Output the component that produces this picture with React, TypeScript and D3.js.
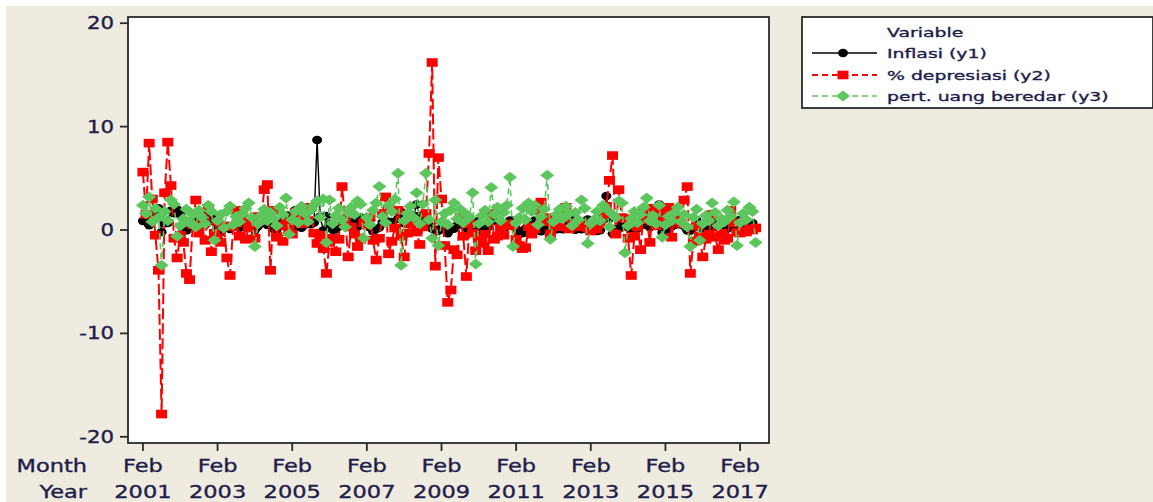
import * as d3 from 'd3';

// monthly series, Feb 2001 .. Jul 2017
const inflasi = [
  0.87, 0.89, 0.46, 0.86, 1.67, 2.12, -0.21, 0.64, 0.68, 1.87, 1.62,
  1.99, 1.5, -0.02, -0.04, 0.8, 0.36, 0.86, 0.29, 0.76, 0.5, 1.85, 1.2,
  0.8, 0.21, -0.23, 0.15, 0.21, 0.1, 0.37, 0.56, 0.19, 0.55, 1.01, 0.94,
  0.57, -0.02, 0.36, 0.97, 0.88, 0.48, 0.45, 0.09, 0.02, 0.56, 0.89, 1.04,
  1.43, -0.17, 1.91, 0.34, 0.21, 0.5, 0.78, 0.55, 0.69, 8.7, 1.31, -0.04,
  1.36, 0.58, 0.03, 0.05, 0.37, 0.45, 0.45, 0.33, 0.38, 0.86, 0.34, 1.21,
  1.04, 0.62, 0.24, -0.16, 0.1, 0.23, 0.72, 0.75, 0.8, 0.79, 0.18, 1.1,
  1.77, 0.65, 0.95, 0.57, 1.41, 2.46, 1.37, 0.51, 0.97, 0.45, 0.12, -0.04,
  -0.07, 0.21, 0.22, -0.31, 0.04, 0.11, 0.45, 0.56, 1.05, 0.19, -0.03, 0.33,
  0.84, 0.3, -0.14, 0.15, 0.29, 0.97, 1.57, 0.76, 0.44, 0.06, 0.6, 0.92,
  0.89, 0.13, -0.32, -0.31, 0.12, 0.55, 0.67, 0.93, 0.27, -0.12, 0.34, 0.57,
  0.76, 0.05, 0.07, 0.21, 0.07, 0.62, 0.7, 0.95, 0.01, 0.16, 0.07, 0.54,
  1.03, 0.75, 0.63, -0.1, -0.03, 1.03, 3.29, 1.12, -0.35, 0.09, 0.12, 0.55,
  1.07, 0.26, 0.08, -0.02, 0.16, 0.43, 0.93, 0.47, 0.27, 0.47, 1.5, 2.46,
  -0.24, -0.36, 0.17, 0.36, 0.5, 0.54, 0.93, 0.39, -0.05, -0.08, 0.21, 0.96,
  0.51, -0.09, 0.19, -0.45, 0.24, 0.66, 0.69, -0.02, 0.22, 0.14, 0.47, 0.42,
  0.97, 0.23, -0.02, 0.09, 0.39, 0.69, 0.22,
];

const depresiasi = [
  5.6, 1.5, 8.4, 3.0, -0.5, -3.9, -17.8, 3.6, 8.5, 4.3, -0.8,
  -2.7, -0.5, -1.2, -4.2, -4.8, 0.5, 2.9, -0.3, 0.5, -1.0, 2.1, -2.1,
  -0.3, 0.8, -1.2, 0.4, -2.7, -4.4, 0.3, 1.9, -0.6, 1.0, -0.9, 0.2,
  0.6, -0.8, 1.3, 0.9, 3.9, 4.4, -3.9, 1.9, -0.7, 0.4, -1.1, 0.8,
  0.3, -0.4, 1.7, 1.2, 0.6, 1.6, 0.9, 2.2, -0.3, -1.3, -0.5, -1.8,
  -4.2, -1.2, -0.8, -2.1, -0.9, 4.2, 1.1, -2.6, 0.3, -0.4, -1.6, -0.9,
  0.7, 0.5, 1.2, -1.0, -2.9, -0.8, 1.6, 3.2, -2.3, -1.1, 0.2, 1.9,
  -0.6, -2.6, -0.3, 0.6, 0.9, -0.2, -1.4, 0.3, 1.6, 7.4, 16.2, -3.5,
  7.0, 3.0, -1.5, -7.0, -5.8, -1.9, -2.4, 1.2, -0.6, -4.5, 0.6, -0.3,
  -2.0, -0.8, -1.3, -0.4, -2.0, 1.6, -0.9, -0.6, 0.2, -0.5, 0.6, 0.4,
  0.5, -0.9, -1.5, -1.8, -1.7, 0.3, -0.4, 0.1, 1.9, 2.7, 0.8, 1.2,
  -0.4, 0.5, 1.2, 0.3, 1.8, 2.2, 0.1, 0.7, 0.6, 0.3, 0.4, 0.6,
  0.2, -0.1, 0.3, 0.1, 0.6, 1.4, 2.3, 4.8, 7.2, -0.4, 3.9, 1.2,
  1.1, -0.8, -4.4, -0.6, 0.3, -1.9, 1.9, 1.0, -1.2, 2.1, 0.4, 1.9,
  1.1, 1.4, 2.2, -0.7, 1.3, 0.9, 0.6, 2.9, 4.2, -4.2, -1.1, 0.4,
  -0.6, -2.6, -0.9, -0.4, 1.5, -0.7, -1.9, -0.3, -1.0, -0.8, 1.9, 0.7,
  -0.2, -0.3, -0.1, -0.2, 0.1, 0.0, 0.2,
];

const uangBeredar = [
  2.4, 1.6, 3.2, 0.8, 2.1, 1.2, -3.4, 1.8, 0.9, 2.9, 2.5,
  -0.6, 0.4, 1.1, 2.0, 0.7, 1.5, 0.3, 1.9, 1.2, 0.6, 2.4, 1.8,
  -1.0, 0.9, 1.5, 0.2, 1.8, 2.3, 0.5, 1.3, 0.8, 1.6, 2.1, 2.6,
  1.2, -1.6, 0.6, 1.4, 2.0, 0.9, 1.7, 1.1, 0.4, 2.2, 1.5, 3.1,
  -0.4, 1.0, 1.8, 0.7, 2.3, 1.6, 0.8, 1.9, 2.4, 2.8, 1.2, 3.0,
  -1.2, 2.9, 0.6, 1.4, 2.1, 1.0, 0.3, 1.7, 2.2, 1.5, 2.8, 2.5,
  -0.8, 1.2, 0.5, 1.9, 2.6, 4.2, 1.3, 0.7, 2.4, 1.8, 3.0, 5.5,
  -3.4, 0.9, 1.6, 2.3, 1.2, 3.6, 0.6, 2.5, 5.5, 1.0, -0.8, 2.9,
  -1.5, 0.8, 1.6, 0.5, 1.9, 2.6, 1.1, 2.0, 0.7, 1.5, 1.2, 3.6,
  -3.3, 0.6, 1.4, 1.9, 0.8, 4.1, 1.5, 2.2, 0.9, 1.7, 2.4, 5.1,
  -1.6, 0.7, 1.2, 2.1, 1.0, 2.6, 1.8, 2.4, 0.5, 1.3, 2.0, 5.3,
  -0.9, 0.8, 1.5, 2.0, 1.1, 2.3, 1.6, 0.4, 1.7, 1.0, 2.9, 2.1,
  -1.3, 0.6, 1.0, 1.8, 0.9, 2.4, 2.0, 0.3, 1.5, 1.2, 2.8, 2.6,
  -2.2, 0.4, 1.1, 1.8, 0.7, 1.5, 2.2, 3.1, 0.9, 1.4, 0.6, 2.4,
  -0.7, 0.5, 1.3, 0.9, 1.7, 2.2, 0.8, 1.5, 0.3, -1.6, 1.2, 2.0,
  -1.0, 0.6, 1.4, 0.9, 2.6, 1.7, 0.4, 1.1, 0.8, 1.9, 1.3, 2.7,
  -1.5, 0.7, 1.6, 1.0, 2.2, 1.8, -1.2,
];

const yTicks = [-20, -10, 0, 10, 20];
const tickMonth = 'Feb';
const tickYears = ['2001', '2003', '2005', '2007', '2009', '2011', '2013', '2015', '2017'];
const legendTitle = 'Variable';
const seriesNames = ['Inflasi (y1)', '% depresiasi (y2)', 'pert. uang beredar (y3)'];

const W = 1153;
const H = 502;
const plot = { left: 128, right: 769, top: 17, bottom: 443 };
const ink = '#211d4a';
const font = 'DejaVu Sans, Verdana, sans-serif';

const x = d3.scaleLinear().domain([-4.8, 201.3]).range([plot.left, plot.right]);
const y = d3.scaleLinear().domain([-20.6, 20.6]).range([plot.bottom, plot.top]);

type Mark = 'circle' | 'square' | 'diamond';

const series = [
  { name: seriesNames[0], values: inflasi, color: '#000000', dash: null, width: 1.4, mark: 'circle' as Mark },
  { name: seriesNames[1], values: depresiasi, color: '#ff0000', dash: '11,4', width: 2, mark: 'square' as Mark },
  { name: seriesNames[2], values: uangBeredar, color: '#5cc65c', dash: '6,4', width: 1.6, mark: 'diamond' as Mark },
];

function Marker({ kind, cx, cy, color }: { kind: Mark; cx: number; cy: number; color: string }) {
  if (kind === 'circle') return <ellipse cx={cx} cy={cy} rx={5} ry={4.2} fill={color} />;
  if (kind === 'square') return <rect x={cx - 5.5} y={cy - 4.3} width={11} height={8.6} fill={color} />;
  return <path d={`M${cx},${cy - 5.5}L${cx + 7},${cy}L${cx},${cy + 5.5}L${cx - 7},${cy}Z`} fill={color} />;
}

// wide, blurry Minitab text: stretch horizontally
function Label({ x0, y0, size, sx, anchor = 'start', children }: any) {
  return (
    <text
      transform={`translate(${x0},${y0}) scale(${sx},1)`}
      textAnchor={anchor}
      fontFamily={font}
      fontSize={size}
      fill={ink}
      stroke={ink}
      strokeWidth={0.35}
    >
      {children}
    </text>
  );
}

export default function App() {
  const line = d3
    .line<number>()
    .x((_, i) => x(i))
    .y((d) => y(d));

  const lg = { left: 802, top: 17, right: 1153, bottom: 108 };
  const rowY = [53, 75, 96];

  return (
    <>
      <style>{'body{margin:0}'}</style>
      <svg width={W} height={H} style={{ display: 'block' }}>
        <rect x={0} y={0} width={W} height={H} fill="#ffffff" />
        <rect x={6} y={6} width={W - 6} height={H - 6} fill="#efebe1" />

        {/* plot area */}
        <rect
          x={plot.left}
          y={plot.top}
          width={plot.right - plot.left}
          height={plot.bottom - plot.top}
          fill="#ffffff"
          stroke="#2a2a2a"
          strokeWidth={1.8}
        />

        {/* y axis */}
        {yTicks.map((t) => (
          <g key={t}>
            <line x1={plot.left - 8} x2={plot.left} y1={y(t)} y2={y(t)} stroke="#2a2a2a" strokeWidth={1.8} />
            <Label x0={114} y0={y(t) + 6} size={17} sx={1.25} anchor="end">
              {t}
            </Label>
          </g>
        ))}

        {/* x axis */}
        {tickYears.map((yr, k) => {
          const px = x(k * 24);
          return (
            <g key={yr}>
              <line x1={px} x2={px} y1={plot.bottom} y2={plot.bottom + 8} stroke="#2a2a2a" strokeWidth={1.8} />
              <Label x0={px} y0={472} size={18} sx={1.25} anchor="middle">
                {tickMonth}
              </Label>
              <Label x0={px} y0={498} size={18} sx={1.25} anchor="middle">
                {yr}
              </Label>
            </g>
          );
        })}
        <Label x0={87} y0={472} size={18} sx={1.25} anchor="end">
          Month
        </Label>
        <Label x0={87} y0={498} size={18} sx={1.25} anchor="end">
          Year
        </Label>

        {/* series */}
        {series.map((s) => (
          <g key={s.name}>
            <path
              d={line(s.values) ?? ''}
              fill="none"
              stroke={s.color}
              strokeWidth={s.width}
              strokeDasharray={s.dash ?? undefined}
            />
            {s.values.map((v, i) => (
              <Marker key={i} kind={s.mark} cx={x(i)} cy={y(v)} color={s.color} />
            ))}
          </g>
        ))}

        {/* legend */}
        <rect
          x={lg.left}
          y={lg.top}
          width={lg.right - lg.left}
          height={lg.bottom - lg.top}
          fill="#ffffff"
          stroke="#2a2a2a"
          strokeWidth={1.8}
        />
        <Label x0={887} y0={37} size={13} sx={1.45}>
          {legendTitle}
        </Label>
        {series.map((s, k) => (
          <g key={s.name}>
            <line
              x1={812}
              x2={877}
              y1={rowY[k]}
              y2={rowY[k]}
              stroke={s.color}
              strokeWidth={s.width}
              strokeDasharray={s.dash ? '6,4' : undefined}
            />
            <Marker kind={s.mark} cx={843} cy={rowY[k]} color={s.color} />
            <Label x0={887} y0={rowY[k] + 5} size={13} sx={1.45}>
              {s.name}
            </Label>
          </g>
        ))}
      </svg>
    </>
  );
}
